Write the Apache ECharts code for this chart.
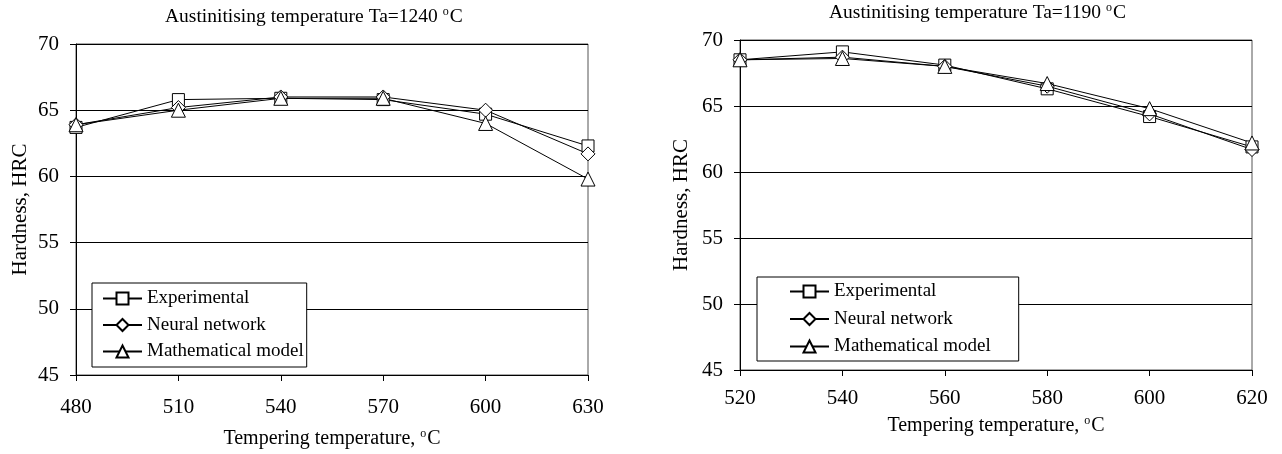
<!DOCTYPE html>
<html>
<head>
<meta charset="utf-8">
<script src="https://cdn.jsdelivr.net/npm/echarts@6/dist/echarts.min.js"></script>
<style>
  html, body { margin: 0; padding: 0; background: #fff; }
  #chart { width: 1282px; height: 454px; }
</style>
</head>
<body>
<div id="chart"></div>
<script>
// 数据 - Ta=1240
const temps1240 = [480, 510, 540, 570, 600, 630]
const exp1240 = [63.7, 65.8, 65.9, 65.8, 64.7, 62.3]
const nn1240 = [63.9, 65.2, 66.0, 66.0, 65.0, 61.7]
const math1240 = [63.9, 65.0, 65.9, 65.9, 64.0, 59.8]

// 数据 - Ta=1190
const temps1190 = [520, 540, 560, 580, 600, 620]
const exp1190 = [68.5, 69.1, 68.1, 66.3, 64.2, 61.9]
const nn1190 = [68.5, 68.7, 68.0, 66.5, 64.4, 61.7]
const math1190 = [68.5, 68.6, 68.0, 66.7, 64.8, 62.2]

const yTicks = [45, 50, 55, 60, 65, 70]
const names = ['Experimental', 'Neural network', 'Mathematical model']
const symbols = ['rect', 'diamond', 'triangle']
const symbolSizes = [12, 14, 14]

const font = 'Liberation Serif'
const sup = { fontSize: 12, fontFamily: font, color: '#000', padding: [0, 1, 9, 0] }

function pairs(xs, ys) {
    return xs.map((x, i) => [x, ys[i]])
}

function makeSeries(idx, xs, sets) {
    return sets.map((ys, k) => ({
        name: names[k],
        type: 'line',
        xAxisIndex: idx,
        yAxisIndex: idx,
        data: pairs(xs, ys),
        symbol: symbols[k],
        symbolSize: symbolSizes[k],
        showAllSymbol: true,
        lineStyle: { color: '#000', width: 1 },
        itemStyle: { color: '#fff', borderColor: '#000', borderWidth: 1 },
        emphasis: { disabled: true },
        animation: false
    }))
}

function xAxisOf(idx, xs, step, gap, margin) {
    return {
        type: 'value',
        gridIndex: idx,
        min: xs[0],
        max: xs[xs.length - 1],
        interval: step,
        name: 'Tempering temperature, {sup|o}C',
        nameLocation: 'middle',
        nameGap: gap,
        nameTextStyle: { fontFamily: font, fontSize: 20, color: '#000', rich: { sup: sup } },
        axisLine: { lineStyle: { color: '#000', width: 1 } },
        axisTick: { show: true, length: 6, lineStyle: { color: '#000' } },
        axisLabel: { fontFamily: font, fontSize: 21, color: '#000', margin: margin },
        splitLine: { show: false }
    }
}

function yAxisOf(idx, gap) {
    return {
        type: 'value',
        gridIndex: idx,
        min: yTicks[0],
        max: yTicks[yTicks.length - 1],
        interval: 5,
        name: 'Hardness, HRC',
        nameLocation: 'middle',
        nameGap: gap,
        nameTextStyle: { fontFamily: font, fontSize: 21, color: '#000' },
        axisLine: { show: true, lineStyle: { color: '#000', width: 1 } },
        axisTick: { show: true, length: 6, lineStyle: { color: '#000' } },
        axisLabel: { fontFamily: font, fontSize: 21, color: '#000', margin: 17 },
        splitLine: { show: true, lineStyle: { color: '#000', width: 1 } }
    }
}

function legendOf(left, top, pad, gap) {
    return {
        data: names,
        orient: 'vertical',
        left: left,
        top: top,
        padding: pad,
        itemWidth: 39,
        itemHeight: 15,
        itemGap: gap,
        backgroundColor: '#fff',
        borderColor: '#000',
        borderWidth: 1,
        borderRadius: 0,
        selectedMode: false,
        textStyle: { fontFamily: font, fontSize: 19, color: '#000' }
    }
}

const chart = echarts.init(document.getElementById('chart'))

const titleStyle = { fontFamily: font, fontSize: 19.5, fontWeight: 'normal', color: '#000', rich: { sup: sup } }

const option = {
    backgroundColor: '#fff',
    animation: false,
    title: [
        { text: 'Austinitising temperature Ta=1240 {sup|o}C', left: 165, top: 6, padding: 0, textStyle: titleStyle },
        { text: 'Austinitising temperature Ta=1190 {sup|o}C', left: 829, top: 2, padding: 0, textStyle: titleStyle }
    ],
    grid: [
        { left: 76, top: 44, width: 512, height: 331, show: true, borderColor: '#555', borderWidth: 1 },
        { left: 740, top: 40, width: 512, height: 330, show: true, borderColor: '#555', borderWidth: 1 }
    ],
    xAxis: [
        xAxisOf(0, temps1240, 30, 53, 22),
        xAxisOf(1, temps1190, 20, 45, 18)
    ],
    yAxis: [
        yAxisOf(0, 45),
        yAxisOf(1, 48)
    ],
    legend: [
        legendOf(92, 283, [6, 3, 6, 10], 7.5),
        legendOf(757, 277, [5, 28, 5, 32], 8.5)
    ],
    series: [
        ...makeSeries(0, temps1240, [exp1240, nn1240, math1240]),
        ...makeSeries(1, temps1190, [exp1190, nn1190, math1190])
    ]
}

chart.setOption(option)
</script>
</body>
</html>
